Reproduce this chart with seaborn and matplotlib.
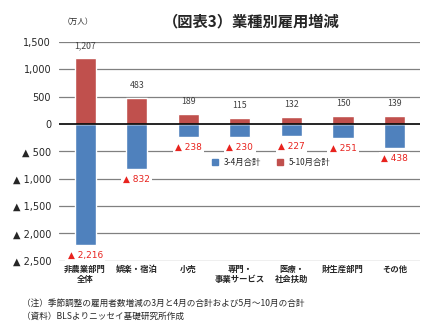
import matplotlib
matplotlib.use("Agg")
import matplotlib.pyplot as plt
import seaborn as sns
import pandas as pd
from matplotlib.lines import Line2D

categories = ["非農業部門\n全体", "娯楽・宿泊", "小売", "専門・\n事業サービス", "医療・\n社会扶助", "財生産部門", "その他"]
mar_apr = [-2216, -832, -238, -230, -227, -251, -438]
may_oct = [1207, 483, 189, 115, 132, 150, 139]
series_names = ["3-4月合計", "5-10月合計"]
yticks = [1500, 1000, 500, 0, -500, -1000, -1500, -2000, -2500]

sns.set_theme(style="white")
plt.rcParams['font.family'] = ['Noto Sans CJK JP', 'DejaVu Sans']

BLUE = "#4F81BD"
RED = "#C0504D"
LRED = "#E8231E"

fig = plt.figure(figsize=(4.37, 3.25), dpi=100)
ax = fig.add_axes([0.136, 0.198, 0.826, 0.673])

df = pd.DataFrame({"cat": categories, "a": mar_apr, "b": may_oct})
sns.barplot(data=df, x="cat", y="a", color=BLUE, width=0.41, saturation=1, ax=ax, zorder=3)
sns.barplot(data=df, x="cat", y="b", color=RED, width=0.41, saturation=1, ax=ax, zorder=3)

ax.set_ylim(-2500, 1500)
ax.set_xlim(-0.5, len(categories) - 0.5)
ax.set_yticks(yticks)
ax.set_yticklabels([f"{v:,}" if v >= 0 else f"▲ {abs(v):,}" for v in yticks], fontsize=7)
for t in ax.get_yticklabels():
    t.set_family(['DejaVu Sans', 'Noto Sans CJK JP'])
ax.tick_params(axis='y', length=0, pad=6)
ax.tick_params(axis='x', length=0, pad=3, labelsize=6)
for lab in ax.get_xticklabels():
    lab.set_fontweight('bold')
ax.set_xlabel("")
ax.set_ylabel("")
for s in ax.spines.values():
    s.set_visible(False)
for v in yticks:
    if v == 0:
        ax.axhline(0, color="black", lw=1.2, zorder=4)
    else:
        ax.axhline(v, color="#808080", lw=0.9, zorder=1)

for i, (a, b) in enumerate(zip(mar_apr, may_oct)):
    ax.annotate(f"{b:,}", (i, b), xytext=(0, 9), textcoords="offset points",
                ha="center", va="center", fontsize=6.3, color="#404040", zorder=5)
    ax.annotate(f"▲ {abs(a):,}", (i, a), xytext=(0, -7.5), textcoords="offset points",
                ha="center", va="center", fontsize=6.5, color=LRED, zorder=5,
                family=['DejaVu Sans'],
                bbox=dict(boxstyle="square,pad=0.25", fc="white", ec="none"))

handles = [Line2D([], [], marker="s", ls="none", color=BLUE, markersize=4.5),
           Line2D([], [], marker="s", ls="none", color=RED, markersize=4.5)]
leg = ax.legend(handles, series_names, loc="center", bbox_to_anchor=(0.58, 0.45), ncol=2,
                frameon=True, facecolor="white", edgecolor="none", fontsize=6,
                handletextpad=0.1, columnspacing=1.2, borderpad=0.3, framealpha=1)
leg.set_zorder(6)

fig.text(0.575, 0.935, "（図表3）業種別雇用増減", ha="center", va="center", fontsize=11, fontweight="bold")
fig.text(0.178, 0.932, "（万人）", ha="center", va="center", fontsize=5.5)
fig.text(0.05, 0.068, "（注）季節調整の雇用者数増減の3月と4月の合計および5月～10月の合計", ha="left", va="center", fontsize=6.2)
fig.text(0.05, 0.028, "（資料）BLSよりニッセイ基礎研究所作成", ha="left", va="center", fontsize=6.2)

fig.savefig("out.png", dpi=100, facecolor="white")
